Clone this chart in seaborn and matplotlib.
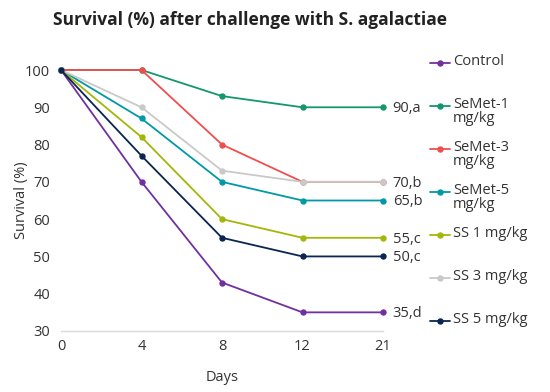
import pandas as pd
import matplotlib
matplotlib.use("Agg")
import matplotlib.pyplot as plt
import seaborn as sns
from matplotlib.lines import Line2D

# Data
days = ["0", "4", "8", "12", "21"]
groups = ["Control", "SeMet-1 mg/kg", "SeMet-3 mg/kg", "SeMet-5 mg/kg",
          "SS 1 mg/kg", "SS 3 mg/kg", "SS 5 mg/kg"]
legend_labels = ["Control", "SeMet-1\nmg/kg", "SeMet-3\nmg/kg", "SeMet-5\nmg/kg",
                 "SS 1 mg/kg", "SS 3 mg/kg", "SS 5 mg/kg"]
control = [100, 70, 43, 35, 35]
semet1 = [100, 100, 93, 90, 90]
semet3 = [100, 100, 80, 70, 70]
semet5 = [100, 87, 70, 65, 65]
ss1 = [100, 82, 60, 55, 55]
ss3 = [100, 90, 73, 70, 70]
ss5 = [100, 77, 55, 50, 50]
end_labels = ["35,d", "90,a", "70,b", "65,b", "55,c", None, "50,c"]
colors = ["#7030A0", "#13976D", "#F04E4E", "#009AA6", "#A2B709", "#C9C9C9", "#0A2550"]

series = [control, semet1, semet3, semet5, ss1, ss3, ss5]
rows = []
for g, vals in zip(groups, series):
    for d, v in zip(days, vals):
        rows.append({"Day": d, "Survival": v, "Group": g})
df = pd.DataFrame(rows)

sns.set_theme(style="white")
plt.rcParams["font.family"] = ["Open Sans", "DejaVu Sans"]
txt = "#333333"
fs = 10.5

fig = plt.figure(figsize=(5.5, 3.92), dpi=100)
ax = fig.add_axes([61 / 550, 1 - 331 / 392, 322 / 550, 261 / 392])

sns.pointplot(data=df, x="Day", y="Survival", hue="Group", order=days,
              hue_order=groups, palette=colors, markers="o", errorbar=None,
              markersize=3.6, linewidth=1.3, legend=False, ax=ax, clip_on=False)

ax.set_xlim(0, 4)
ax.set_ylim(30, 100)
ax.set_yticks(range(30, 101, 10))
for s in ["top", "right", "left"]:
    ax.spines[s].set_visible(False)
ax.spines["bottom"].set_color("#d9d9d9")
ax.spines["bottom"].set_linewidth(1)
ax.tick_params(axis="both", length=0, labelsize=fs, labelcolor=txt)
ax.tick_params(axis="y", pad=8)
ax.tick_params(axis="x", pad=6)
ax.set_xlabel("Days", fontsize=fs, color=txt, labelpad=11)
ax.set_ylabel("Survival (%)", fontsize=fs, color=txt, labelpad=-3)

# end-of-line labels
for vals, lab in zip(series, end_labels):
    if lab:
        ax.annotate(lab, xy=(4, vals[-1]), xytext=(7, -1), textcoords="offset points",
                    va="center", ha="left", fontsize=fs, color=txt,
                    annotation_clip=False)

# legend, drawn entry by entry so the marker lines up with the first text line
leg_y = [63, 106, 149, 192, 235, 278, 321]
for lab, c, y in zip(legend_labels, colors, leg_y):
    yf = 1 - y / 392
    fig.add_artist(Line2D([430 / 550, 450 / 550], [yf, yf], color=c, lw=1.3,
                          transform=fig.transFigure))
    fig.add_artist(Line2D([440 / 550], [yf], color=c, marker="o", markersize=3.6,
                          transform=fig.transFigure))
    fig.text(453 / 550, yf + 9 / 392, lab, ha="left", va="top", fontsize=fs,
             color=txt, linespacing=0.95)

fig.text(250 / 550, 1 - 20 / 392, "Survival (%) after challenge with S. agalactiae",
         ha="center", va="center", fontsize=12.5, fontweight="bold", color="#222222")

fig.savefig("out.png", dpi=100)
